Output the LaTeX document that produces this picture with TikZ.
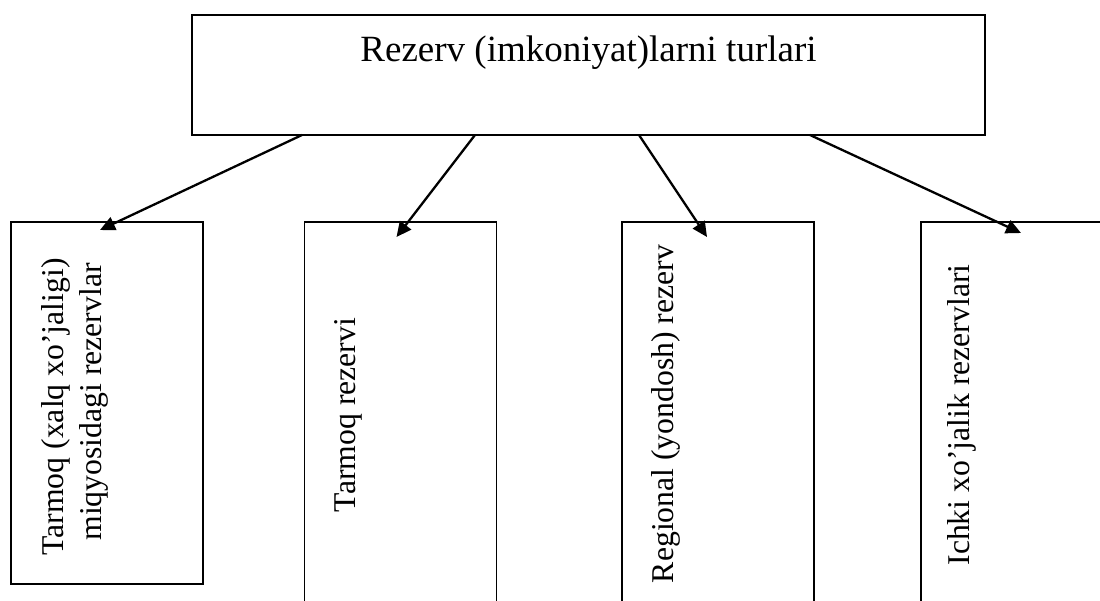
\documentclass[tikz,border=0pt]{standalone}
\usepackage{fontspec}
\setmainfont{Liberation Serif}
\usetikzlibrary{arrows.meta}
\begin{document}
\begin{tikzpicture}[x=1pt,y=-1pt,
  every node/.style={inner sep=0pt, outer sep=0pt},
  headbox/.style={draw, line width=2.4pt, minimum width=793pt, minimum height=120pt},
  kindbox/.style={draw, line width=1.7pt, minimum width=192pt},
  kindtext/.style={rotate=90, anchor=base, font=\fontsize{31.7}{36}\selectfont},
  link/.style={line width=2.3pt, -{Triangle[length=15pt,width=14pt]}}
]
% page frame
\clip (0,0) rectangle (1100,600);

% heading box
\node[headbox] (top) at (588.5,75) {};
\node[anchor=base, font=\fontsize{37}{44}\selectfont] (title) at (588.5,61)
  {Rezerv (imkoniyat)larni turlari};

% four kinds of reserves
\node[kindbox, minimum height=362pt] (b1) at (107,403) {};
\node[kindbox, minimum height=383pt] (b2) at (400.5,413.5) {};
\node[kindbox, minimum height=383pt] (b3) at (718,413.5) {};
\node[kindbox, minimum height=383pt] (b4) at (1017,413.5) {};

\node[kindtext] (t1a) at (63,407) {Tarmoq (xalq xo’jaligi)};
\node[kindtext] (t1b) at (101,402) {miqyosidagi rezervlar};
\node[kindtext] (t2) at (355,415) {Tarmoq rezervi};
\node[kindtext] (t3) at (673,414) {Regional (yondosh) rezerv};
\node[kindtext] (t4) at (969,415) {Ichki xo’jalik rezervlari};

% connectors
\draw[link] ([xshift=110pt]top.south west) -- ([xshift=89pt,yshift=-8pt]b1.north west);
\draw[link] ([xshift=283pt]top.south west) -- ([xshift=92pt,yshift=-15pt]b2.north west);
\draw[link] ([xshift=447pt]top.south west) -- ([xshift=85pt,yshift=-15pt]b3.north west);
\draw[link] ([xshift=618pt]top.south west) -- ([xshift=100pt,yshift=-11pt]b4.north west);
\end{tikzpicture}
\end{document}
